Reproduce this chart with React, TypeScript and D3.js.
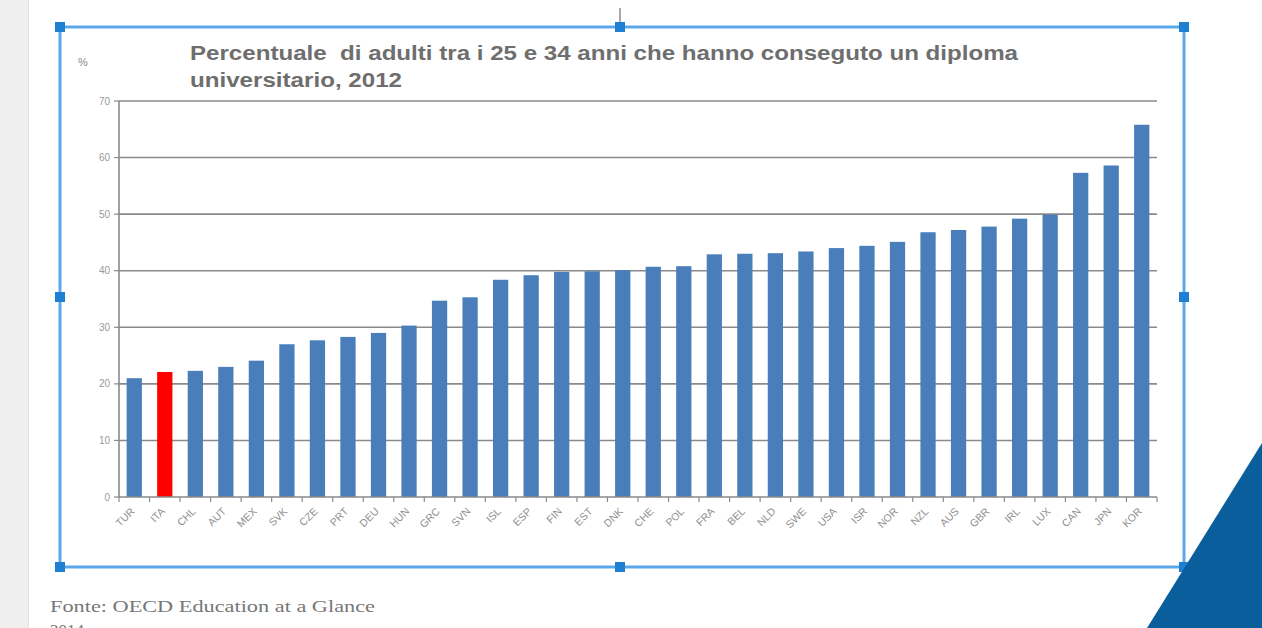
import React from "react";
import * as d3 from "d3";

const countries = ["TUR","ITA","CHL","AUT","MEX","SVK","CZE","PRT","DEU","HUN","GRC","SVN","ISL","ESP","FIN","EST","DNK","CHE","POL","FRA","BEL","NLD","SWE","USA","ISR","NOR","NZL","AUS","GBR","IRL","LUX","CAN","JPN","KOR"];
const values = [21,22.1,22.3,23,24.1,27,27.7,28.3,29,30.3,34.7,35.3,38.4,39.2,39.8,39.9,40.1,40.7,40.8,42.9,43,43.1,43.4,44,44.4,45.1,46.8,47.2,47.8,49.2,49.9,57.3,58.6,65.8];
const highlight = "ITA";
const yTicks = [0,10,20,30,40,50,60,70];
const titleLines = ["Percentuale  di adulti tra i 25 e 34 anni che hanno conseguto un diploma", "universitario, 2012"];
const titleWidths = [828, 212];
const sourceLines = ["Fonte: OECD Education at a Glance", "2014"];
const sourceWidths = [325, 0];

const W = 1262, H = 628;
const plot = { left: 119, right: 1157, top: 101, bottom: 497 };

export default function App() {
  const x = d3.scaleBand<string>().domain(countries).range([plot.left, plot.right]).paddingInner(0.5).paddingOuter(0.25);
  const y = d3.scaleLinear().domain([0, 70]).range([plot.bottom, plot.top]);
  const boundaries = d3.range(countries.length + 1).map(i => plot.left + i * ((plot.right - plot.left) / countries.length));
  const handle = (cx: number, cy: number, k: string) => (
    <rect key={k} x={cx - 5} y={cy - 5} width={10} height={10} fill="#1f7fd2" />
  );
  const fx0 = 60, fy0 = 27, fx1 = 1184, fy1 = 567, fmx = 620, fmy = 297;
  const sans = "Liberation Sans, Arial, sans-serif";
  return (
    <div style={{ position: "absolute", left: 0, top: 0 }}>
      <svg width={W} height={H} style={{ display: "block" }}>
        <rect x={0} y={0} width={W} height={H} fill="#ffffff" />
        <rect x={0} y={0} width={28} height={H} fill="#efefef" />
        <line x1={28.5} y1={0} x2={28.5} y2={H} stroke="#e2e2e2" />
        {/* title */}
        {titleLines.map((t, i) => (
          <text key={i} x={190} y={60 + i * 27} fontFamily={sans} fontWeight="bold" fontSize={20}
            fill="#6e6e6e" textLength={titleWidths[i]} lengthAdjust="spacingAndGlyphs" style={{ whiteSpace: "pre" }}>{t}</text>
        ))}
        <text x={78} y={66} fontFamily={sans} fontSize={11} fill="#8a8a8a">%</text>
        {/* gridlines */}
        {yTicks.map(t => (
          <g key={t}>
            {t > 0 && <line x1={plot.left} x2={plot.right} y1={y(t)} y2={y(t)} stroke="#8a8a8a" strokeWidth={1.6} />}
            <line x1={plot.left - 5} x2={plot.left} y1={y(t)} y2={y(t)} stroke="#8a8a8a" strokeWidth={1.2} />
            <text x={plot.left - 9} y={y(t) + 3.5} textAnchor="end" fontFamily={sans} fontSize={10} fill="#999">{t}</text>
          </g>
        ))}
        {/* bars */}
        {countries.map((c, i) => (
          <rect key={c} x={x(c)!} y={y(values[i])} width={x.bandwidth()} height={y(0) - y(values[i])} fill={c === highlight ? "#ff0000" : "#4a7ebb"} />
        ))}
        {/* axes */}
        <line x1={plot.left} x2={plot.left} y1={plot.top} y2={plot.bottom} stroke="#8a8a8a" strokeWidth={1.6} />
        <line x1={plot.left} x2={plot.right} y1={plot.bottom} y2={plot.bottom} stroke="#8a8a8a" strokeWidth={1.6} />
        {boundaries.map((bx, i) => (
          <line key={i} x1={bx} x2={bx} y1={plot.bottom} y2={plot.bottom + 5} stroke="#8a8a8a" strokeWidth={1.2} />
        ))}
        {countries.map(c => {
          const cx = x(c)! + x.bandwidth() / 2 + 1;
          const cy = plot.bottom + 15;
          return (
            <text key={c} x={cx} y={cy} transform={`rotate(-45 ${cx} ${cy})`} textAnchor="end" fontFamily={sans} fontSize={10.5} fill="#8f8f8f">{c}</text>
          );
        })}
        {/* selection frame */}
        <line x1={fmx} x2={fmx} y1={8} y2={fy0} stroke="#555" strokeWidth={1} />
        <rect x={fx0} y={fy0} width={fx1 - fx0} height={fy1 - fy0} fill="none" stroke="#5aa7ea" strokeWidth={3} />
        {[
          [fx0, fy0], [fmx, fy0], [fx1, fy0],
          [fx0, fmy], [fx1, fmy],
          [fx0, fy1], [fmx, fy1], [fx1, fy1],
        ].map(([hx, hy], i) => handle(hx, hy, "h" + i))}
        {/* source */}
        {sourceLines.map((t, i) => (
          <text key={i} x={50} y={612 + i * 24} fontFamily="Liberation Serif, Times New Roman, serif" fontSize={17} fill="#777"
            {...(sourceWidths[i] ? { textLength: sourceWidths[i], lengthAdjust: "spacingAndGlyphs" } : {})}>{t}</text>
        ))}
        {/* decorative corner */}
        <polygon points={`${W},443 ${W},${H} 1147,${H}`} fill="#0b5e9c" />
      </svg>
    </div>
  );
}
